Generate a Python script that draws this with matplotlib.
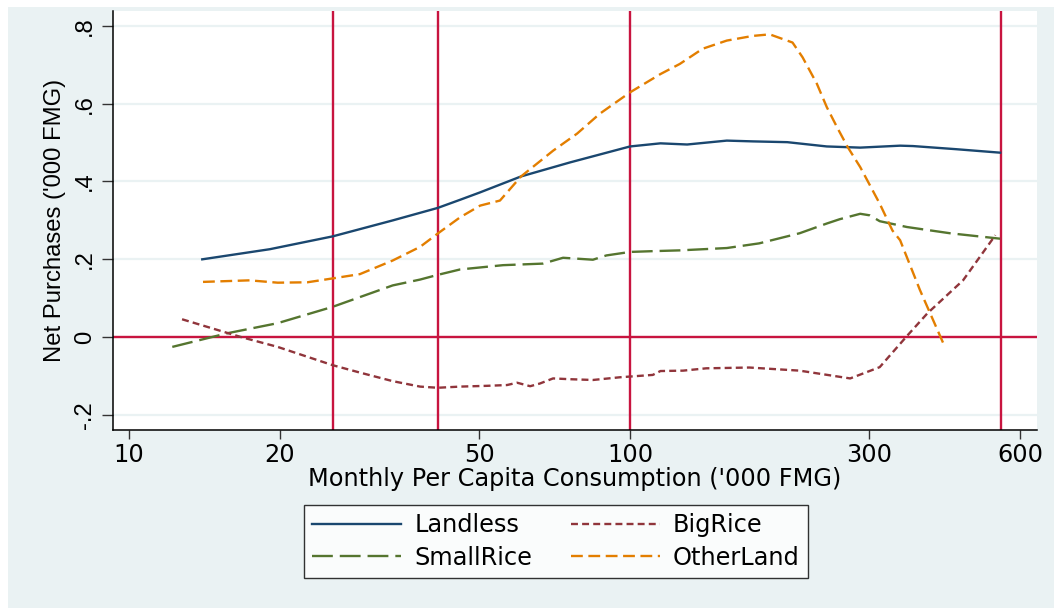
import matplotlib
matplotlib.use("Agg")
import matplotlib.pyplot as plt
from matplotlib.patches import Rectangle

plt.rcParams['font.family'] = ['DejaVu Sans']
plt.rcParams['lines.scale_dashes'] = False

# smoothed net purchases by land group against per capita consumption
landless_x = [14.0, 19.1, 25.5, 33.6, 41.3, 45.8, 50.2, 60.6, 75.9, 100, 115, 130,
              156, 176, 206, 247, 288, 346, 367, 447, 548]
landless_y = [0.200, 0.226, 0.259, 0.300, 0.332, 0.353, 0.372, 0.413, 0.449, 0.490,
              0.498, 0.495, 0.505, 0.503, 0.501, 0.490, 0.487, 0.492, 0.491, 0.483, 0.474]

smallrice_x = [12.2, 15.7, 19.8, 25.5, 28.9, 33.6, 38.1, 41.3, 45.8, 55.8, 67, 73.5,
               84.3, 89.7, 100, 111, 125.7, 156, 181, 218, 247, 262, 288, 301, 315,
               357, 435, 548]
smallrice_y = [-0.025, 0.010, 0.036, 0.078, 0.103, 0.133, 0.148, 0.160, 0.174, 0.185,
               0.189, 0.204, 0.199, 0.210, 0.219, 0.221, 0.223, 0.229, 0.241, 0.267,
               0.292, 0.303, 0.317, 0.313, 0.298, 0.283, 0.267, 0.253]

bigrice_x = [12.76, 16.66, 19.8, 25.5, 28.9, 33.6, 38.1, 41.3, 45.8, 51.8, 56.8, 59.5,
             63.2, 66.1, 70.2, 75.9, 84.3, 95.5, 111, 115, 127.6, 142, 173, 218, 275,
             315, 357, 392, 462, 536]
bigrice_y = [0.046, 0.001, -0.025, -0.072, -0.091, -0.113, -0.127, -0.130, -0.127,
             -0.125, -0.123, -0.117, -0.126, -0.119, -0.106, -0.108, -0.110, -0.103,
             -0.097, -0.087, -0.086, -0.080, -0.078, -0.086, -0.106, -0.077, 0.003,
             0.061, 0.146, 0.262]

otherland_x = [14.05, 17.4, 19.8, 22.7, 25.5, 28.9, 33.6, 38.1, 41.4, 45.8, 50.2, 55.0,
               60.6, 70.2, 78.4, 87.0, 100, 115, 125.7, 139.6, 156, 175.8, 190, 211,
               221, 236, 247, 259, 272, 288, 315, 334, 346, 379, 422]
otherland_y = [0.142, 0.146, 0.140, 0.141, 0.151, 0.162, 0.197, 0.232, 0.267, 0.308,
               0.338, 0.351, 0.413, 0.479, 0.523, 0.574, 0.629, 0.676, 0.702, 0.741,
               0.762, 0.774, 0.778, 0.757, 0.719, 0.651, 0.591, 0.539, 0.488, 0.437,
               0.343, 0.274, 0.249, 0.121, -0.016]

ref_x = [25.5, 41.4, 100, 550]
ref_y = 0

xticks = [10, 20, 50, 100, 300, 600]
yticks = [-0.2, 0, 0.2, 0.4, 0.6, 0.8]
ytick_labels = ['-.2', '0', '.2', '.4', '.6', '.8']

bg = '#EAF2F3'
fs = 17.3        # horizontal text
fs_v = 17.2      # rotated text on the y axis
vfont = ['Liberation Sans', 'DejaVu Sans']

fig = plt.figure(figsize=(10.54, 6.08), dpi=100, facecolor='white')
fig.add_artist(Rectangle((8 / 1054, 0), 1, 1 - 7 / 608, transform=fig.transFigure,
                         facecolor=bg, edgecolor='none', zorder=-10))

ax = fig.add_axes([113 / 1054, 1 - 430 / 608, 924 / 1054, 419 / 608])
ax.set_facecolor('white')
ax.set_xscale('log')
ax.set_xlim(9.29, 649)
ax.set_ylim(-0.2385, 0.838)

for y in yticks:
    ax.axhline(y, color=bg, lw=1.6, zorder=0)

red = '#C8143F'
for x in ref_x:
    ax.axvline(x, color=red, lw=1.7, zorder=1)
ax.axhline(ref_y, color=red, lw=1.7, zorder=1)

ax.plot(landless_x, landless_y, color='#1A476F', lw=1.7, label='Landless', zorder=3)
ax.plot(smallrice_x, smallrice_y, color='#55752F', lw=1.7, dashes=(15, 5),
        label='SmallRice', zorder=3)
ax.plot(bigrice_x, bigrice_y, color='#90353B', lw=1.7, dashes=(5, 3),
        label='BigRice', zorder=3)
ax.plot(otherland_x, otherland_y, color='#E37E00', lw=1.7, dashes=(8.5, 4),
        label='OtherLand', zorder=3)

for side in ['top', 'right']:
    ax.spines[side].set_visible(False)
for side in ['left', 'bottom']:
    ax.spines[side].set_color('black')
    ax.spines[side].set_linewidth(1.1)

ax.set_xticks(xticks)
ax.set_xticklabels([str(t) for t in xticks])
ax.xaxis.set_minor_locator(matplotlib.ticker.NullLocator())
ax.set_yticks(yticks)
ax.set_yticklabels(ytick_labels)
ax.tick_params(axis='x', length=6.5, width=1, color='#333333', labelsize=fs, pad=3)
ax.tick_params(axis='y', length=8, width=1, color='#333333', labelsize=fs_v, pad=4,
               labelrotation=90)
for lbl in ax.get_yticklabels():
    lbl.set_va('center')
    lbl.set_family(vfont)

ax.set_xlabel("Monthly Per Capita Consumption ('000 FMG)", fontsize=fs, labelpad=0)
ax.set_ylabel("Net Purchases ('000 FMG)", fontsize=fs_v, va='center', family=vfont)
ax.yaxis.set_label_coords((55 - 113) / 924, 0.5)

h, l = ax.get_legend_handles_labels()
leg = fig.legend(h, l, ncol=2,
                 loc='center', bbox_to_anchor=(556 / 1054, 1 - 541.5 / 608),
                 fontsize=fs, frameon=True, fancybox=False, edgecolor='black',
                 handlelength=3.7, handletextpad=0.55, columnspacing=1.6,
                 borderpad=0.35, labelspacing=0.35)
leg.get_frame().set_linewidth(1.0)

fig.savefig('out.png', dpi=100, facecolor='white')
